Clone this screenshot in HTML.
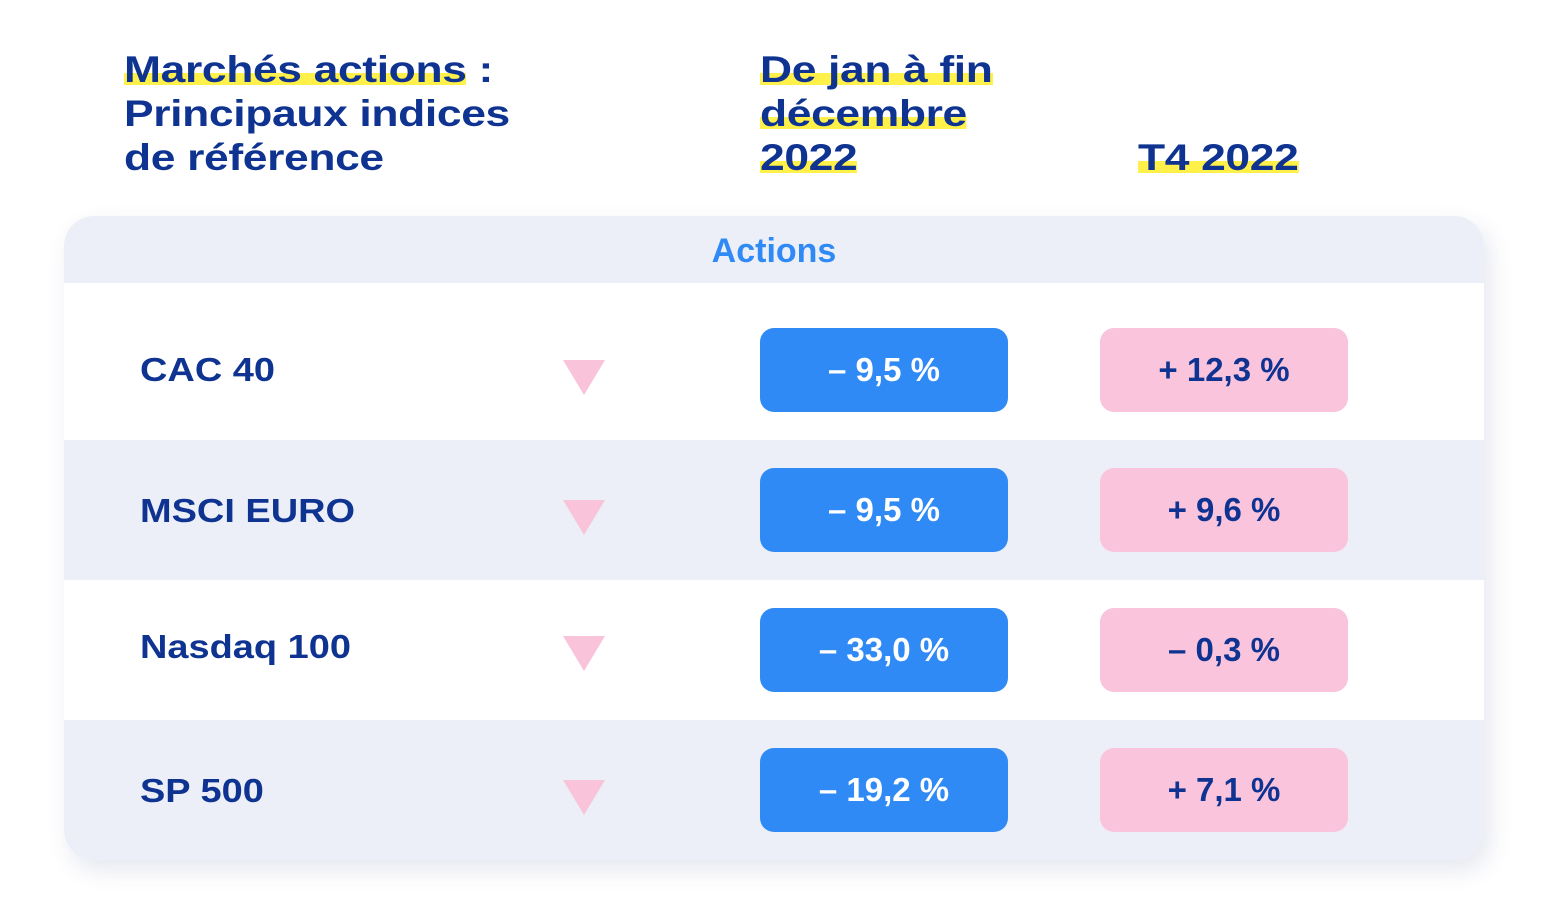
<!DOCTYPE html>
<html><head><meta charset="utf-8">
<style>
body{margin:0;width:1548px;height:908px;background:#fff;font-family:"Liberation Sans",sans-serif;position:relative;overflow:hidden;color:#0f3391;font-weight:bold}
.abs{position:absolute}
.h{font-size:37px;line-height:44px;letter-spacing:-0.3px;transform:scaleX(1.2);transform-origin:0 0}
.hl{background:linear-gradient(to bottom,transparent 58%,#fff04a 58%,#fff04a 88%,transparent 88%)}
.card{left:64px;top:216px;width:1420px;height:644px;border-radius:30px;background:#fff;box-shadow:6px 10px 24px rgba(40,60,120,0.12);overflow:hidden}
.row{position:absolute;left:0;width:1420px}
.lbl{position:absolute;left:76px;font-size:33px;transform:scaleX(1.15);transform-origin:0 0}
.pill{position:absolute;width:248px;height:84px;border-radius:14px;font-size:33px;display:flex;align-items:center;justify-content:center}
.b{left:696px;background:#2f8af5;color:#fff}
.p{left:1036px;background:#fac5dc;color:#0f3391}
.tri{position:absolute;left:499px;width:0;height:0;border-left:21px solid transparent;border-right:21px solid transparent;border-top:35px solid #f9c3da}
</style></head><body>
<div class="abs h" style="left:124px;top:48px"><span class="hl">Marchés actions</span> :<br>Principaux indices<br>de référence</div>
<div class="abs h" style="left:760px;top:48px"><span class="hl">De jan à fin<br>décembre<br>2022</span></div>
<div class="abs h" style="left:1138px;top:136px"><span class="hl">T4 2022</span></div>
<div class="abs card">
 <div class="row" style="top:0;height:67px;background:#eceff7;color:#2f8af5;font-size:34px;text-align:center;line-height:70px">Actions</div>
 <div class="row" style="top:67px;height:157px;background:#fff">
  <div class="lbl" style="top:68px">CAC 40</div><div class="tri" style="top:77px"></div>
  <div class="pill b" style="top:45px">– 9,5 %</div><div class="pill p" style="top:45px">+ 12,3 %</div></div>
 <div class="row" style="top:224px;height:140px;background:#eceff7">
  <div class="lbl" style="top:52px">MSCI EURO</div><div class="tri" style="top:60px"></div>
  <div class="pill b" style="top:28px">– 9,5 %</div><div class="pill p" style="top:28px">+ 9,6 %</div></div>
 <div class="row" style="top:364px;height:140px;background:#fff">
  <div class="lbl" style="top:48px">Nasdaq 100</div><div class="tri" style="top:56px"></div>
  <div class="pill b" style="top:28px">– 33,0 %</div><div class="pill p" style="top:28px">– 0,3 %</div></div>
 <div class="row" style="top:504px;height:140px;background:#eceff7">
  <div class="lbl" style="top:52px">SP 500</div><div class="tri" style="top:60px"></div>
  <div class="pill b" style="top:28px">– 19,2 %</div><div class="pill p" style="top:28px">+ 7,1 %</div></div>
</div>
</body></html>
